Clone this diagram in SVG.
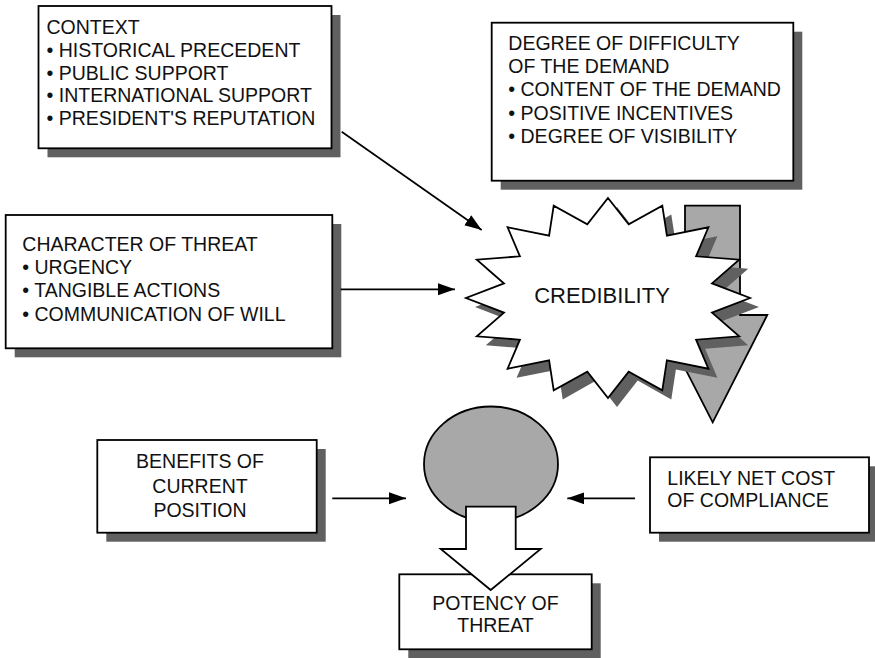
<svg xmlns="http://www.w3.org/2000/svg" width="875" height="658" viewBox="0 0 875 658">
  <style>
    .box { fill: #ffffff; stroke: #000000; stroke-width: 1.8; }
    .shadow { fill: #606060; stroke: none; }
    .gray { fill: #a8a8a8; stroke: #000000; stroke-width: 1.8; stroke-linejoin: miter; }
    .lbl { font-family: "Liberation Sans", Arial, Helvetica, sans-serif; font-size: 19.5px; fill: #111111; }
    .big { font-size: 22px; }
    .conn { stroke: #000000; stroke-width: 1.7; fill: none; }
  </style>
  <defs>
    <marker id="arrow" markerUnits="userSpaceOnUse" markerWidth="18" markerHeight="13" refX="17" refY="6" orient="auto">
      <path d="M0,0 L17,6 L0,12 Z" fill="#000000"/>
    </marker>
    <polygon id="starShape" points="608,198 628.7,224.4 662.3,205.6 666.9,235.6 708.4,227.3 696.1,256.3 739.2,259.7 712,283.4 750,298 712,312.6 739.2,336.3 696.1,339.7 708.4,368.7 666.9,360.4 662.3,390.4 628.7,371.6 608,398 587.3,371.6 553.7,390.4 549.1,360.4 507.6,368.7 519.9,339.7 476.8,336.3 504,312.6 466,298 504,283.4 476.8,259.7 519.9,256.3 507.6,227.3 549.1,235.6 553.7,205.6 587.3,224.4"/>
  </defs>

  <!-- Context box -->
  <g id="context">
    <rect class="shadow" x="47.5" y="15" width="293" height="142.3"/>
    <rect class="box" x="38.5" y="6" width="293" height="142.3"/>
    <text class="lbl" x="46.5" y="34">CONTEXT</text>
    <text class="lbl" x="46.5" y="56.8">• HISTORICAL PRECEDENT</text>
    <text class="lbl" x="46.5" y="79.5">• PUBLIC SUPPORT</text>
    <text class="lbl" x="46.5" y="102.3">• INTERNATIONAL SUPPORT</text>
    <text class="lbl" x="46.5" y="125">• PRESIDENT'S REPUTATION</text>
  </g>

  <!-- Degree of difficulty box -->
  <g id="difficulty">
    <rect class="shadow" x="500.7" y="31.7" width="301.6" height="158"/>
    <rect class="box" x="491.7" y="22.7" width="301.6" height="158"/>
    <text class="lbl" x="508.3" y="50">DEGREE OF DIFFICULTY</text>
    <text class="lbl" x="508.3" y="73">OF THE DEMAND</text>
    <text class="lbl" x="508.3" y="96">• CONTENT OF THE DEMAND</text>
    <text class="lbl" x="508.3" y="119.5">• POSITIVE INCENTIVES</text>
    <text class="lbl" x="508.3" y="142.5">• DEGREE OF VISIBILITY</text>
  </g>

  <!-- Character of threat box -->
  <g id="character">
    <rect class="shadow" x="14.7" y="224" width="326.6" height="133.3"/>
    <rect class="box" x="5.7" y="215" width="326.6" height="133.3"/>
    <text class="lbl" x="22.3" y="250.7">CHARACTER OF THREAT</text>
    <text class="lbl" x="22.3" y="274">• URGENCY</text>
    <text class="lbl" x="22.3" y="297.3">• TANGIBLE ACTIONS</text>
    <text class="lbl" x="22.3" y="320.5">• COMMUNICATION OF WILL</text>
  </g>

  <!-- Grey down arrow behind the credibility burst -->
  <g id="flow-arrow">
    <polygon class="gray" points="685,205.7 740,205.7 740,315 767.3,315 712.7,422.3 657.7,315 685,315"/>
  </g>

  <!-- Credibility burst -->
  <g id="credibility">
    <use href="#starShape" fill="#606060" transform="translate(9,9)"/>
    <use href="#starShape" fill="#ffffff" stroke="#000000" stroke-width="1.8" stroke-linejoin="miter"/>
    <text class="lbl big" x="602" y="302.7" text-anchor="middle">CREDIBILITY</text>
  </g>

  <!-- Benefits box -->
  <g id="benefits">
    <rect class="shadow" x="106.3" y="449" width="219.4" height="92.7"/>
    <rect class="box" x="97.3" y="440" width="219.4" height="92.7"/>
    <text class="lbl" x="200" y="468.3" text-anchor="middle">BENEFITS OF</text>
    <text class="lbl" x="200" y="493" text-anchor="middle">CURRENT</text>
    <text class="lbl" x="200" y="517.3" text-anchor="middle">POSITION</text>
  </g>

  <!-- Likely net cost box -->
  <g id="cost">
    <rect class="shadow" x="659" y="466.3" width="219" height="75.4"/>
    <rect class="box" x="650" y="457.3" width="219" height="75.4"/>
    <text class="lbl" x="667.3" y="485">LIKELY NET COST</text>
    <text class="lbl" x="667.3" y="506.7">OF COMPLIANCE</text>
  </g>

  <!-- Potency box -->
  <g id="potency">
    <rect class="shadow" x="408.3" y="583.3" width="192.4" height="75"/>
    <rect class="box" x="399.3" y="574.3" width="192.4" height="75"/>
    <text class="lbl" x="495.5" y="610" text-anchor="middle">POTENCY OF</text>
    <text class="lbl" x="495.5" y="631.7" text-anchor="middle">THREAT</text>
  </g>

  <!-- Balance ellipse -->
  <g id="balance">
    <ellipse class="gray" cx="491" cy="464" rx="67" ry="57.5"/>
  </g>

  <!-- White block arrow into potency -->
  <g id="result-arrow">
    <polygon class="box" points="466,506.7 515.7,506.7 515.7,549 540.7,549 490.7,590 440.7,549 466,549"/>
  </g>

  <!-- Connectors -->
  <g id="connectors">
    <line class="conn" x1="341.7" y1="131.7" x2="481.7" y2="230" marker-end="url(#arrow)"/>
    <line class="conn" x1="340.7" y1="289.3" x2="455" y2="289.3" marker-end="url(#arrow)"/>
    <line class="conn" x1="332.3" y1="498.3" x2="406" y2="498.3" marker-end="url(#arrow)"/>
    <line class="conn" x1="635" y1="498.3" x2="567.3" y2="498.3" marker-end="url(#arrow)"/>
  </g>
</svg>
